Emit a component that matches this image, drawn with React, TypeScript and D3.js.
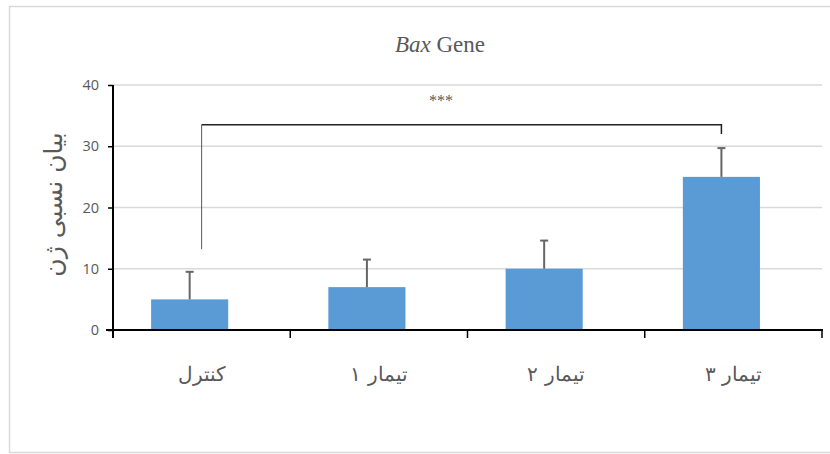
import React, { useEffect, useRef } from 'react';
import * as d3 from 'd3';

// categories and values
const categories: string[] = ['کنترل', 'تیمار ۱', 'تیمار ۲', 'تیمار ۳'];
const means: number[] = [5, 7, 10, 25];
const errorTops: number[] = [9.5, 11.5, 14.6, 29.7];
const yTicks: number[] = [0, 10, 20, 30, 40];

// significance bracket between control and treatment 3
const bracketLevel = 33.5;
const bracketLeftEnd = 13.2;
const bracketRightEnd = 32;
const bracketLabel = '***';

const App: React.FC = () => {
  const svgRef = useRef<SVGSVGElement>(null);

  useEffect(() => {
    if (!svgRef.current) return;

    const width = 830;
    const height = 454;
    const plot = { left: 113, right: 822, top: 85, bottom: 330 };
    const grey = '#595959';

    const svg = d3.select(svgRef.current)
      .attr('width', width)
      .attr('height', height);

    svg.selectAll('*').remove();

    // outer chart border
    svg.append('rect')
      .attr('x', 9.5)
      .attr('y', 6.5)
      .attr('width', 840)
      .attr('height', 446)
      .attr('fill', '#fff')
      .attr('stroke', '#d9d9d9')
      .attr('stroke-width', 1.5);

    const x = d3.scaleBand<string>()
      .domain(categories)
      .range([plot.left, plot.right])
      .paddingInner(0)
      .paddingOuter(0);

    const y = d3.scaleLinear()
      .domain([0, 40])
      .range([plot.bottom, plot.top]);

    const bw = x.bandwidth();
    const barX = (c: string) => x(c)! + bw * 0.215;
    const barW = bw * 0.435;
    const barMid = (c: string) => barX(c) + barW / 2;

    // gridlines
    svg.append('g')
      .selectAll('line')
      .data(yTicks.filter(t => t > 0))
      .join('line')
        .attr('x1', plot.left)
        .attr('x2', plot.right)
        .attr('y1', d => y(d))
        .attr('y2', d => y(d))
        .attr('stroke', '#d9d9d9')
        .attr('stroke-width', 1.5);

    // bars
    svg.append('g')
      .attr('fill', '#5b9bd5')
      .selectAll('rect')
      .data(categories)
      .join('rect')
        .attr('x', d => barX(d))
        .attr('y', (d, i) => y(means[i]))
        .attr('width', barW)
        .attr('height', (d, i) => y(0) - y(means[i]));

    // error bars (upper only)
    const err = svg.append('g')
      .attr('stroke', '#666')
      .attr('stroke-width', 2);
    err.selectAll('line.stem')
      .data(categories)
      .join('line')
        .attr('class', 'stem')
        .attr('x1', d => barMid(d))
        .attr('x2', d => barMid(d))
        .attr('y1', (d, i) => y(means[i]))
        .attr('y2', (d, i) => y(errorTops[i]));
    err.selectAll('line.cap')
      .data(categories)
      .join('line')
        .attr('class', 'cap')
        .attr('x1', d => barMid(d) - 4)
        .attr('x2', d => barMid(d) + 4)
        .attr('y1', (d, i) => y(errorTops[i]))
        .attr('y2', (d, i) => y(errorTops[i]));

    // y axis
    const yAxis = svg.append('g')
      .attr('transform', `translate(${plot.left},0)`)
      .call(d3.axisLeft(y).tickValues(yTicks).tickSize(5).tickSizeOuter(0).tickPadding(9));
    yAxis.select('.domain').remove();
    yAxis.selectAll('.tick line').attr('stroke', '#000').attr('stroke-width', 1.5);
    yAxis.selectAll('.tick text')
      .attr('fill', grey)
      .attr('font-family', 'Open Sans, sans-serif')
      .attr('font-size', 14.5);
    svg.append('line')
      .attr('x1', plot.left)
      .attr('x2', plot.left)
      .attr('y1', plot.top)
      .attr('y2', plot.bottom + 8)
      .attr('stroke', '#000')
      .attr('stroke-width', 2);

    // x axis
    svg.append('line')
      .attr('x1', plot.left - 7)
      .attr('x2', plot.right + 1)
      .attr('y1', plot.bottom)
      .attr('y2', plot.bottom)
      .attr('stroke', '#000')
      .attr('stroke-width', 2);
    svg.append('g')
      .selectAll('line')
      .data(categories.slice(1).concat(['end']))
      .join('line')
        .attr('x1', (d, i) => x(categories[0])! + bw * (i + 1))
        .attr('x2', (d, i) => x(categories[0])! + bw * (i + 1))
        .attr('y1', plot.bottom)
        .attr('y2', plot.bottom + 8)
        .attr('stroke', '#000')
        .attr('stroke-width', 1.5);

    svg.append('g')
      .selectAll('text')
      .data(categories)
      .join('text')
        .attr('x', d => x(d)! + bw / 2)
        .attr('y', 381)
        .attr('text-anchor', 'middle')
        .attr('direction', 'rtl')
        .attr('fill', grey)
        .attr('font-family', 'DejaVu Sans, sans-serif')
        .attr('font-weight', 300)
        .attr('font-size', 20)
        .text(d => d);

    // significance bracket
    const bx1 = x(categories[0])! + bw / 2;
    const bx2 = barMid(categories[3]);
    svg.append('line')
      .attr('x1', bx1).attr('x2', bx1)
      .attr('y1', y(bracketLevel)).attr('y2', y(bracketLeftEnd))
      .attr('stroke', '#595959').attr('stroke-width', 1);
    svg.append('path')
      .attr('d', `M${bx1},${y(bracketLevel)}H${bx2}V${y(bracketRightEnd)}`)
      .attr('fill', 'none')
      .attr('stroke', '#222')
      .attr('stroke-width', 1.5);
    svg.append('text')
      .attr('x', 441)
      .attr('y', 106)
      .attr('text-anchor', 'middle')
      .attr('fill', grey)
      .attr('font-family', 'Liberation Serif, serif')
      .attr('font-size', 16)
      .text(bracketLabel);

    // title
    const title = svg.append('text')
      .attr('x', 440)
      .attr('y', 52)
      .attr('text-anchor', 'middle')
      .attr('fill', grey)
      .attr('font-family', 'Liberation Serif, serif')
      .attr('font-size', 23);
    title.append('tspan').attr('font-style', 'italic').text('Bax');
    title.append('tspan').text(' Gene');

    // y axis title
    svg.append('text')
      .attr('transform', `translate(62,${(plot.top + plot.bottom) / 2 - 3}) rotate(-90)`)
      .attr('text-anchor', 'middle')
      .attr('direction', 'rtl')
      .attr('fill', grey)
      .attr('font-family', 'DejaVu Sans, sans-serif')
      .attr('font-size', 25)
      .text('بیان نسبی ژن');
  }, []);

  return (
    <svg ref={svgRef} style={{ position: 'absolute', left: 0, top: 0 }}></svg>
  );
};

export default App;
